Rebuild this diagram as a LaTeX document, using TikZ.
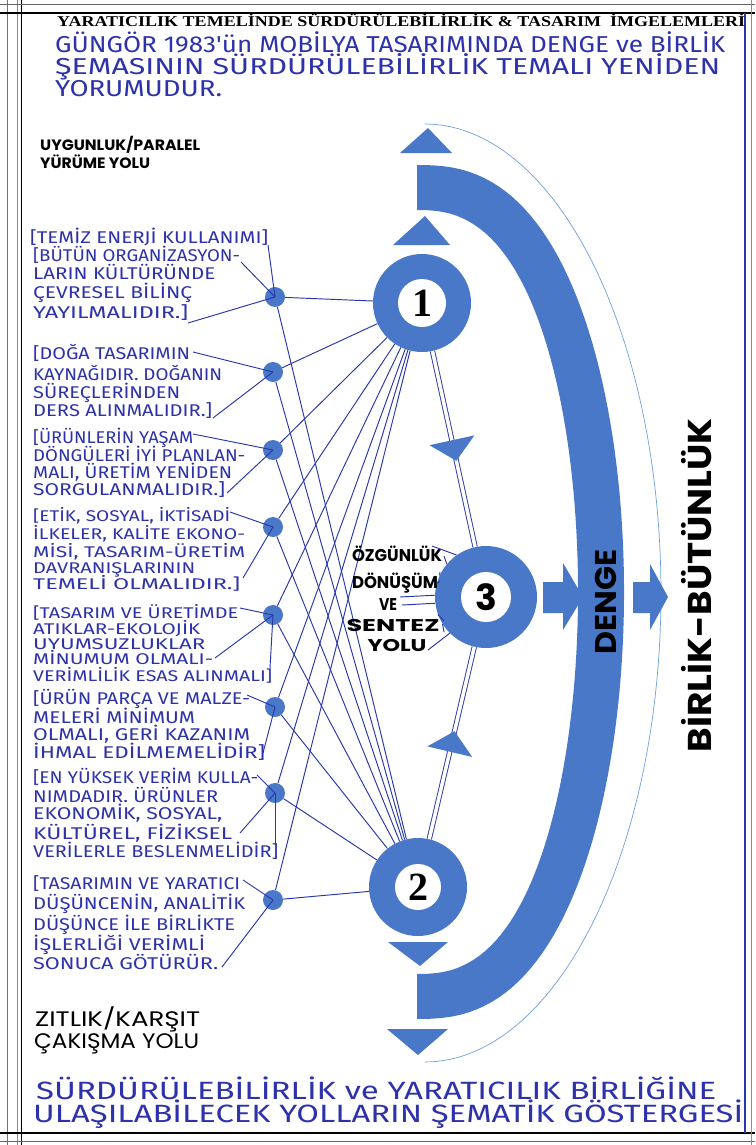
\documentclass[tikz,border=0pt]{standalone}
\usepackage{fontspec}
\usepackage{graphicx}
\setmainfont{Liberation Serif}
\newfontfamily\hand{Fira Sans}
\newfontfamily\geo{Poppins}
\newfontfamily\tim{Liberation Serif}
\usetikzlibrary{shapes.geometric,calc}
\definecolor{bandc}{RGB}{74,120,200}
\definecolor{ink}{RGB}{45,50,170}
\definecolor{netc}{RGB}{40,55,170}
\definecolor{thinc}{RGB}{110,160,225}
\newlength\fitlen
\newcommand\fitw[2]{\settowidth\fitlen{#2}\pgfmathsetmacro\fitfac{#1/\fitlen}\scalebox{\fitfac}[1]{#2}}
\begin{document}
\begin{tikzpicture}[x=1pt,y=-1pt,
  hw/.style={font=\hand\fontsize{17}{17}\selectfont, text=ink, anchor=base west, inner sep=0pt},
  hws/.style={font=\hand\fontsize{15.5}{15.5}\selectfont, text=ink, anchor=base west, inner sep=0pt},
  hd/.style={font=\hand\fontsize{23}{23}\selectfont, text=ink, anchor=base west, inner sep=0pt},
  hb/.style={font=\hand\fontsize{25}{25}\selectfont, text=ink, anchor=base west, inner sep=0pt},
  bl/.style={font=\geo\bfseries\fontsize{15}{15}\selectfont, text=black, anchor=base west, inner sep=0pt},
  blz/.style={font=\geo\fontsize{21}{21}\selectfont, text=black, anchor=base west, inner sep=0pt},
  bc/.style={font=\geo\bfseries\fontsize{17}{17}\selectfont, text=black, anchor=base, inner sep=0pt},
  dotn/.style={circle, fill=bandc, minimum size=20pt, inner sep=0pt},
  ring/.style={circle, fill=bandc, minimum size=98pt, inner sep=0pt},
  hole/.style={circle, fill=white, minimum size=48pt, inner sep=0pt},
  net/.style={draw=netc, line width=0.95pt},
  dbl/.style={draw=netc, line width=0.9pt, double=white, double distance=3.5pt},
  tri/.style={isosceles triangle, isosceles triangle stretches, fill=bandc, inner sep=0pt,
              minimum width=46pt, minimum height=21pt, sloped, allow upside down},
]
\useasboundingbox (0,0) rectangle (755,1145);
\fill[white] (0,0) rectangle (755,1145);

% frame
\draw[black!55, line width=1pt] (7,0) -- (7,1145);
\draw[black!45, line width=0.8pt] (17,0) -- (17,1145);
\draw[black, line width=1.4pt] (21.5,0) -- (21.5,1145);
\draw[black!60, line width=1pt] (0,4.5) -- (755,4.5);
\draw[black, line width=1.2pt] (0,13) -- (755,13);
\draw[black, line width=1.2pt] (0,1133) -- (755,1133);
\draw[black!60, line width=1pt] (0,1141) -- (755,1141);
\draw[netc, line width=1.2pt] (745,13) -- (745,1133);
\draw[black!45, line width=1pt] (751,0) -- (751,1145);

% title
\node[font=\tim\bfseries\fontsize{15}{15}\selectfont, anchor=base west, inner sep=0pt] (title) at (57,27)
  {\fitw{688}{YARATICILIK TEMELİNDE SÜRDÜRÜLEBİLİRLİK \& TASARIM\ \ İMGELEMLERİ}};
\node[hd] (h1) at (55,53) {\fitw{670}{GÜNGÖR 1983'ün MOBİLYA TASARIMINDA DENGE ve BİRLİK}};
\node[hd] (h2) at (55,75) {\fitw{665}{ŞEMASININ SÜRDÜRÜLEBİLİRLİK TEMALI YENİDEN}};
\node[hd] (h3) at (55,97) {\fitw{167}{YORUMUDUR.}};

% big band
\fill[bandc] plot[domain=-90:90, samples=90] ({417+207*(abs(cos(\x))+0.0001)^0.8},{592+427*sin(\x)})
  -- plot[domain=90:-90, samples=90] ({417+161*(abs(cos(\x))+0.0001)^0.8},{592+382*sin(\x)}) -- cycle;
% thin arc
\draw[thinc, line width=0.7pt] plot[domain=-90:90, samples=90] ({425+236*cos(\x)},{593+469*sin(\x)});

% arc-end triangles
\fill[bandc] (400,153) -- (452,153) -- (428,128) -- cycle;
\fill[bandc] (393,245) -- (450,245) -- (425,216) -- cycle;
\fill[bandc] (388,942) -- (448,942) -- (420,966) -- cycle;
\fill[bandc] (387,1029) -- (448,1029) -- (418,1055) -- cycle;

% block arrows
\fill[bandc] (543,582) -- (563,582) -- (563,563) -- (583,597) -- (563,630) -- (563,613) -- (543,613) -- cycle;
\fill[bandc] (633,582) -- (650,582) -- (650,564) -- (668,597) -- (650,630) -- (650,613) -- (633,613) -- cycle;

% rotated labels
\node[font=\geo\bfseries\fontsize{30}{30}\selectfont, rotate=90, inner sep=0pt] (denge) at (606,602) {\fitw{105}{DENGE}};
\node[font=\geo\bfseries\fontsize{33}{33}\selectfont, rotate=90, inner sep=0pt] (birlik) at (697,585) {\fitw{334}{BİRLİK-BÜTÜNLÜK}};

% main nodes
\node[ring] (n1) at (422,303) {};
\node[hole] (h1c) at (n1) {\tim\bfseries\fontsize{40}{40}\selectfont 1};
\node[ring, minimum size=102pt] (n3) at (486,597) {};
\node[hole, minimum size=50pt] (h3c) at (n3) {\geo\bfseries\fontsize{36}{36}\selectfont 3};
\node[ring] (n2) at (418,887) {};
\node[hole, minimum size=46pt] (h2c) at (n2) {\tim\bfseries\fontsize{40}{40}\selectfont 2};

% double connectors with triangles
\draw[dbl] (n1) -- (n3);
\draw[dbl] (n3) -- (n2);
\path (n1) -- (n3) node[tri, pos=0.5] (a13) {};
\path (n2) -- (n3) node[tri, pos=0.5] (a23) {};

% dots
\node[dotn] (d1) at (275,297) {};
\node[dotn] (d2) at (273,372) {};
\node[dotn] (d3) at (273,450) {};
\node[dotn] (d4) at (273,527) {};
\node[dotn] (d5) at (273,615) {};
\node[dotn] (d6) at (275,707) {};
\node[dotn] (d7) at (275,793) {};
\node[dotn] (d8) at (273,900) {};
\foreach \i in {1,...,8} {
  \draw[net] (d\i) -- (n1);
  \draw[net] (d\i) -- (n2);
}

% labels black
\node[bl] (u1) at (40,150) {\fitw{160}{UYGUNLUK/PARALEL}};
\node[bl] (u2) at (40,168) {\fitw{110}{YÜRÜME YOLU}};
\node[blz] (z1) at (35,1026) {\fitw{165}{ZITLIK/KARŞIT}};
\node[blz] (z2) at (34,1048) {\fitw{165}{ÇAKIŞMA YOLU}};

% centre label
\node[bc] (o1) at (397,561) {\fitw{90}{ÖZGÜNLÜK}};
\node[bc] (o2) at (395,588) {\fitw{86}{DÖNÜŞÜM}};
\node[bc] (o3) at (388,610) {\fitw{18}{VE}};
\node[bc] (o4) at (393,631) {\fitw{93}{SENTEZ}};
\node[bc] (o5) at (397,651) {\fitw{59}{YOLU}};
\coordinate (f1) at (432,546);
\coordinate (f2) at (444,556);
\coordinate (f3) at (440,572);
\coordinate (f4) at (440,581);
\coordinate (f5) at (400,597);
\coordinate (f6) at (402,605);
\coordinate (f7) at (444,621);
\coordinate (f8) at (444,632);
\coordinate (f9) at (428,650);
\draw[net] (f1) -- (n3.125);
\draw[net] (f2) -- (n3.140);
\draw[net] (f3) -- (n3.155);
\draw[net] (f4) -- (n3.165);
\draw[net] (f5) -- (n3.178);
\draw[net] (f6) -- (n3.187);
\draw[net] (f7) -- (n3.200);
\draw[net] (f8) -- (n3.212);
\draw[net] (f9) -- (n3.225);

% left text blocks
\node[hw] (t11) at (30,243) {\fitw{238}{[TEMİZ ENERJİ KULLANIMI]}};
\node[hw] (t12) at (33,261) {\fitw{207}{[BÜTÜN ORGANİZASYON-}};
\node[hw] (t13) at (33,279) {\fitw{182}{LARIN KÜLTÜRÜNDE}};
\node[hw] (t14) at (33,298) {\fitw{159}{ÇEVRESEL BİLİNÇ}};
\node[hw] (t15) at (33,318) {\fitw{155}{YAYILMALIDIR.]}};

\node[hw] (t21) at (33,359) {\fitw{157}{[DOĞA TASARIMIN}};
\node[hw] (t22) at (33,380) {\fitw{189}{KAYNAĞIDIR. DOĞANIN}};
\node[hw] (t23) at (33,398) {\fitw{147}{SÜREÇLERİNDEN}};
\node[hw] (t24) at (33,416) {\fitw{179}{DERS ALINMALIDIR.]}};

\node[hw] (t31) at (33,443) {\fitw{160}{[ÜRÜNLERİN YAŞAM}};
\node[hw] (t32) at (33,461) {\fitw{212}{DÖNGÜLERİ İYİ PLANLAN-}};
\node[hw] (t33) at (33,478) {\fitw{199}{MALI, ÜRETİM YENİDEN}};
\node[hw] (t34) at (33,495) {\fitw{192}{SORGULANMALIDIR.]}};

\node[hws] (t41) at (33,521) {\fitw{197}{[ETİK, SOSYAL, İKTİSADİ}};
\node[hws] (t42) at (33,539) {\fitw{212}{İLKELER, KALİTE EKONO-}};
\node[hws] (t43) at (33,557) {\fitw{212}{MİSİ, TASARIM-ÜRETİM}};
\node[hws] (t44) at (33,573) {\fitw{162}{DAVRANIŞLARININ}};
\node[hws] (t45) at (33,589) {\fitw{207}{TEMELİ OLMALIDIR.]}};

\node[hws] (t51) at (33,618) {\fitw{205}{[TASARIM VE ÜRETİMDE}};
\node[hws] (t52) at (33,634) {\fitw{167}{ATIKLAR-EKOLOJİK}};
\node[hws] (t53) at (33,649) {\fitw{172}{UYUMSUZLUKLAR}};
\node[hws] (t54) at (33,664) {\fitw{180}{MİNUMUM OLMALI-}};
\node[hws] (t55) at (33,681) {\fitw{239}{VERİMLİLİK ESAS ALINMALI]}};

\node[hw] (t61) at (33,704) {\fitw{217}{[ÜRÜN PARÇA VE MALZE-}};
\node[hw] (t62) at (33,723) {\fitw{162}{MELERİ MİNİMUM}};
\node[hw] (t63) at (33,740) {\fitw{217}{OLMALI, GERİ KAZANIM}};
\node[hw] (t64) at (33,758) {\fitw{232}{İHMAL EDİLMEMELİDİR]}};

\node[hw] (t71) at (33,783) {\fitw{225}{[EN YÜKSEK VERİM KULLA-}};
\node[hw] (t72) at (33,802) {\fitw{185}{NIMDADIR. ÜRÜNLER}};
\node[hw] (t73) at (33,819) {\fitw{189}{EKONOMİK, SOSYAL,}};
\node[hw] (t74) at (33,839) {\fitw{199}{KÜLTÜREL, FİZİKSEL}};
\node[hw] (t75) at (33,857) {\fitw{245}{VERİLERLE BESLENMELİDİR]}};

\node[hw] (t81) at (33,889) {\fitw{207}{[TASARIMIN VE YARATICI}};
\node[hw] (t82) at (33,909) {\fitw{212}{DÜŞÜNCENİN, ANALİTİK}};
\node[hw] (t83) at (33,930) {\fitw{202}{DÜŞÜNCE İLE BİRLİKTE}};
\node[hw] (t84) at (33,950) {\fitw{172}{İŞLERLİĞİ VERİMLİ}};
\node[hw] (t85) at (33,969) {\fitw{185}{SONUCA GÖTÜRÜR.}};

% text-to-dot connectors
\coordinate (c1a) at (268,245); \coordinate (c1b) at (241,262); \coordinate (c1c) at (188,323);
\coordinate (c2a) at (193,352); \coordinate (c2b) at (213,418);
\coordinate (c3a) at (193,434); \coordinate (c3b) at (227,493);
\coordinate (c4a) at (230,512); \coordinate (c4b) at (243,578);
\coordinate (c5a) at (240,608); \coordinate (c5b) at (215,658); \coordinate (c5c) at (270,668);
\coordinate (c6a) at (247,695); \coordinate (c6b) at (263,753);
\coordinate (c7a) at (257,775); \coordinate (c7b) at (240,833); \coordinate (c7c) at (275,845);
\coordinate (c8a) at (243,880); \coordinate (c8b) at (222,967);
\draw[net] (c1a) -- (d1.center); \draw[net] (c1b) -- (d1.center); \draw[net] (c1c) -- (d1.center);
\draw[net] (c2a) -- (d2.center); \draw[net] (c2b) -- (d2.center);
\draw[net] (c3a) -- (d3.center); \draw[net] (c3b) -- (d3.center);
\draw[net] (c4a) -- (d4.center); \draw[net] (c4b) -- (d4.center);
\draw[net] (c5a) -- (d5.center); \draw[net] (c5b) -- (d5.center); \draw[net] (c5c) -- (d5.center);
\draw[net] (c6a) -- (d6.center); \draw[net] (c6b) -- (d6.center);
\draw[net] (c7a) -- (d7.center); \draw[net] (c7b) -- (d7.center); \draw[net] (c7c) -- (d7.center);
\draw[net] (c8a) -- (d8.center); \draw[net] (c8b) -- (d8.center);

% bottom caption
\node[hb] (b1) at (36,1099) {\fitw{680}{SÜRDÜRÜLEBİLİRLİK ve YARATICILIK BİRLİĞİNE}};
\node[hb] (b2) at (33,1122) {\fitw{710}{ULAŞILABİLECEK YOLLARIN ŞEMATİK GÖSTERGESİ}};
\end{tikzpicture}
\end{document}
